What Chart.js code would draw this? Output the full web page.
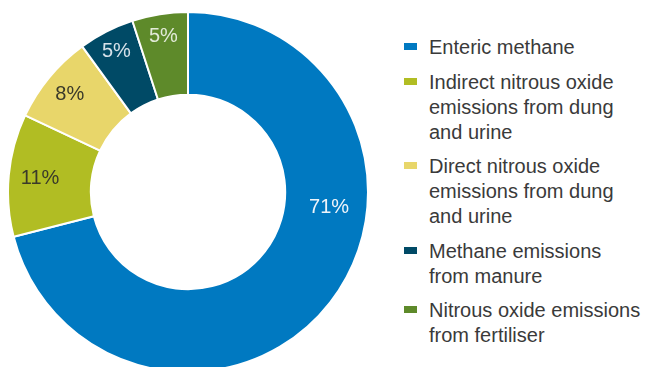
<!DOCTYPE html>
<html>
<head>
<meta charset="utf-8">
<script src="https://cdn.jsdelivr.net/npm/chart.js@4/dist/chart.umd.min.js"></script>
<style>
  html, body { margin: 0; padding: 0; width: 651px; height: 367px; overflow: hidden; background: #ffffff; }
  #wrap { position: absolute; left: 6.5px; top: 11px; width: 362px; height: 362px; }
  #legend { position: absolute; left: 404px; top: 35px; margin: 0; padding: 0; list-style: none;
            font-family: "Liberation Sans", Arial, sans-serif; font-size: 20px; line-height: 25px; color: #3a3a3a; }
  #legend li { position: relative; padding-left: 25px; margin-bottom: 9.5px; }
  #legend .sw { position: absolute; left: 0; top: 8px; width: 13px; height: 7px; }
</style>
</head>
<body>
<div id="wrap"><canvas id="c"></canvas></div>
<ul id="legend"></ul>
<script>
const categories = [
  ["Enteric methane"],
  ["Indirect nitrous oxide", "emissions from dung", "and urine"],
  ["Direct nitrous oxide", "emissions from dung", "and urine"],
  ["Methane emissions", "from manure"],
  ["Nitrous oxide emissions", "from fertiliser"]
];
const shares = [71, 11, 8, 5, 5];
const colors = ["#0079c1", "#b1bd23", "#e8d66a", "#004a66", "#5e8a2a"];
const labelColors = ["#eef4fa", "#3a3a2a", "#3a3a2a", "#d6e2ea", "#e2ead8"];

// label placement along each arc (fraction of angle span, fraction of ring thickness)
const labelPlace = [[0.376, 0.54], [0.5, 0.62], [0.5, 0.68], [0.5, 0.73], [0.5, 0.73]];

const pctLabels = {
  id: 'pctLabels',
  afterDatasetsDraw(chart) {
    const ctx = chart.ctx;
    const meta = chart.getDatasetMeta(0);
    ctx.save();
    ctx.font = '20px "Liberation Sans", Arial, sans-serif';
    ctx.textAlign = 'center';
    ctx.textBaseline = 'middle';
    meta.data.forEach((arc, i) => {
      const p = arc.getProps(['x', 'y', 'startAngle', 'endAngle', 'innerRadius', 'outerRadius'], true);
      const a = p.startAngle + (p.endAngle - p.startAngle) * labelPlace[i][0];
      const r = p.innerRadius + (p.outerRadius - p.innerRadius) * labelPlace[i][1];
      ctx.fillStyle = labelColors[i];
      ctx.fillText(shares[i] + '%', p.x + Math.cos(a) * r, p.y + Math.sin(a) * r);
    });
    ctx.restore();
  }
};

const chart = new Chart(document.getElementById('c'), {
  type: 'doughnut',
  data: {
    labels: categories,
    datasets: [{
      data: shares,
      backgroundColor: colors,
      borderColor: '#ffffff',
      borderWidth: 2,
      hoverOffset: 0
    }]
  },
  options: {
    responsive: true,
    maintainAspectRatio: false,
    animation: false,
    cutout: '54%',
    layout: { padding: 0 },
    plugins: { legend: { display: false }, tooltip: { enabled: false } }
  },
  plugins: [pctLabels]
});

const ul = document.getElementById('legend');
chart.data.labels.forEach((lines, i) => {
  const li = document.createElement('li');
  const sw = document.createElement('span');
  sw.className = 'sw';
  sw.style.background = chart.data.datasets[0].backgroundColor[i];
  li.appendChild(sw);
  lines.forEach((t, j) => {
    if (j) li.appendChild(document.createElement('br'));
    li.appendChild(document.createTextNode(t));
  });
  ul.appendChild(li);
});
</script>
</body>
</html>
